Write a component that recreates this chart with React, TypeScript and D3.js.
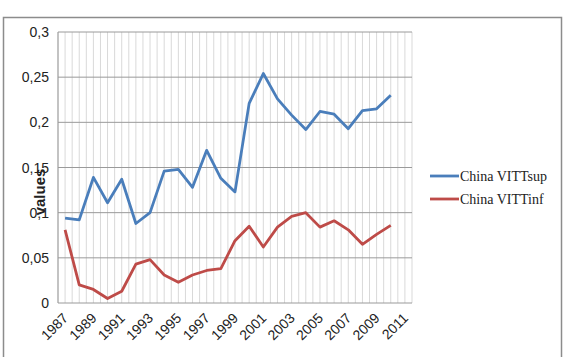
import React, { useEffect, useRef } from "react";
import * as d3 from "d3";

const years = d3.range(1987, 2012).map(String);
const tickYears = years.filter((_, i) => i % 2 === 0);
const supValues = [
  0.094, 0.092, 0.139, 0.111, 0.137, 0.088, 0.1, 0.146, 0.148, 0.128, 0.169, 0.138,
  0.123, 0.221, 0.254, 0.226, 0.208, 0.192, 0.212, 0.209, 0.193, 0.213, 0.215, 0.23,
];
const infValues = [
  0.081, 0.02, 0.015, 0.005, 0.013, 0.043, 0.048, 0.031, 0.023, 0.031, 0.036, 0.038,
  0.069, 0.085, 0.062, 0.084, 0.096, 0.1, 0.084, 0.091, 0.081, 0.065, 0.076, 0.086,
];
const yTicks = [0, 0.05, 0.1, 0.15, 0.2, 0.25, 0.3];
const series = [
  { name: "China VITTsup", values: supValues, color: "#4a7ebb" },
  { name: "China VITTinf", values: infValues, color: "#be4b48" },
];

const App = () => {
  const svgRef = useRef<SVGSVGElement>(null);

  useEffect(() => {
    const width = 564, height = 357;
    const left = 58, right = 412, top = 32, bottom = 303;

    const svg = d3.select(svgRef.current)
      .attr("width", width)
      .attr("height", height)
      .style("position", "absolute")
      .style("left", 0)
      .style("top", 0)
      .style("background", "#fff");
    svg.selectAll("*").remove();

    // caption above the chart box, cut off by the page top (only descenders show)
    svg.append("text")
      .attr("x", 5)
      .attr("y", -3)
      .attr("font-family", "Liberation Serif, serif")
      .attr("font-weight", "bold")
      .attr("font-size", 15)
      .text("Figure 3: Trajectory of the upper and lower bounds of VITT in China");

    svg.append("rect")
      .attr("x", 3.5).attr("y", 17.5)
      .attr("width", 558).attr("height", 350)
      .attr("fill", "#fff")
      .attr("stroke", "#8c8c8c")
      .attr("stroke-width", 1.5);

    const x = d3.scaleBand().domain(years).range([left, right]);
    const y = d3.scaleLinear().domain([0, 0.3]).range([bottom, top]);

    // vertical gridlines at category edges and halfway
    const vLines = d3.range(0, years.length * 2 + 1).map(i => left + (i * x.bandwidth()) / 2);
    svg.append("g").selectAll("line")
      .data(vLines)
      .enter().append("line")
      .attr("x1", d => d).attr("x2", d => d)
      .attr("y1", top).attr("y2", bottom)
      .attr("stroke", "#d9d9d9")
      .attr("stroke-width", 1);

    svg.append("g").selectAll("line")
      .data(yTicks)
      .enter().append("line")
      .attr("x1", left).attr("x2", right)
      .attr("y1", d => y(d)).attr("y2", d => y(d))
      .attr("stroke", "#9a9a9a")
      .attr("stroke-width", 1);

    svg.append("line")
      .attr("x1", left).attr("x2", left)
      .attr("y1", top).attr("y2", bottom)
      .attr("stroke", "#9a9a9a");

    const fmt = (d: number) => String(d).replace(".", ",");
    svg.append("g").selectAll("text")
      .data(yTicks)
      .enter().append("text")
      .attr("x", 49)
      .attr("y", d => y(d) + 5)
      .attr("text-anchor", "end")
      .attr("font-family", "Liberation Sans, Arial, sans-serif")
      .attr("font-size", 14)
      .attr("fill", "#222")
      .text(fmt);

    svg.append("g").selectAll("text")
      .data(tickYears)
      .enter().append("text")
      .attr("transform", d => `translate(${x(d)! + x.bandwidth() / 2 + 4},${bottom + 16}) rotate(-45)`)
      .attr("text-anchor", "end")
      .attr("font-family", "Liberation Sans, Arial, sans-serif")
      .attr("font-size", 14)
      .attr("fill", "#222")
      .text(d => d);

    svg.append("text")
      .attr("transform", `translate(45,192) rotate(-90)`)
      .attr("text-anchor", "middle")
      .attr("font-family", "Liberation Sans, Arial, sans-serif")
      .attr("font-weight", "bold")
      .attr("font-size", 15)
      .attr("fill", "#222")
      .text("values");

    const line = d3.line<number>()
      .x((_, i) => x(years[i])! + x.bandwidth() / 2)
      .y(d => y(d));

    series.forEach(s => {
      svg.append("path")
        .datum(s.values)
        .attr("d", line)
        .attr("fill", "none")
        .attr("stroke", s.color)
        .attr("stroke-width", 2.8)
        .attr("stroke-linejoin", "round");
    });

    const legend = svg.append("g");
    series.forEach((s, i) => {
      const ly = 176 + i * 23;
      legend.append("line")
        .attr("x1", 430).attr("x2", 459)
        .attr("y1", ly).attr("y2", ly)
        .attr("stroke", s.color)
        .attr("stroke-width", 2.8);
      legend.append("text")
        .attr("x", 460)
        .attr("y", ly + 5)
        .attr("font-family", "Liberation Serif, Times New Roman, serif")
        .attr("font-size", 14)
        .attr("fill", "#222")
        .text(s.name);
    });
  }, []);

  return <svg ref={svgRef}></svg>;
};

export default App;
